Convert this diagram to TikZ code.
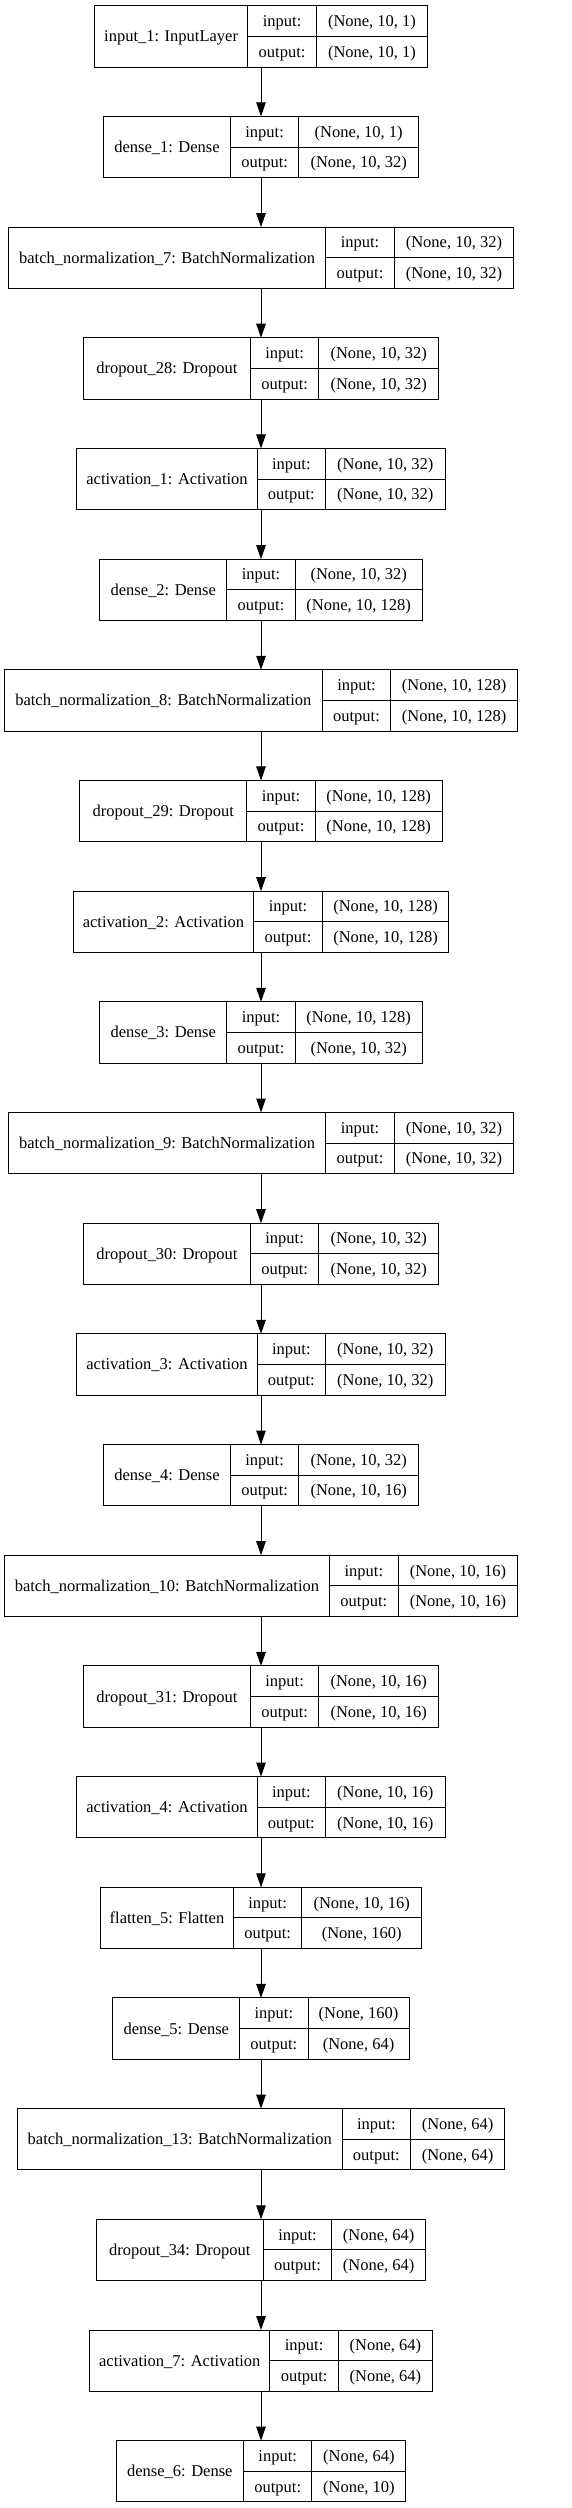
\documentclass[tikz,border=0pt]{standalone}
\usepackage{fontspec}
\setmainfont{Liberation Serif}
\usetikzlibrary{arrows.meta, positioning, calc}

\tikzset{
  layerbox/.style={draw, line width=1pt, minimum height=61.3pt, inner sep=0pt, outer sep=0pt},
  celltext/.style={inner sep=0pt, text height=10.9pt, text depth=0pt, font=\fontsize{16.5}{19}\selectfont},
}

\begin{document}
\begin{tikzpicture}[x=1pt, y=-1pt, >={Triangle[length=14pt, width=9.5pt]}, line width=1pt]
  \useasboundingbox (0,0) rectangle (571,2508);
  % one row per layer: label / input shape / output shape / name cell width / shape cell width
  \foreach \lab/\inp/\outp/\a/\v [count=\i from 0] in {
      {input\_1: InputLayer}/{(None, 10, 1)}/{(None, 10, 1)}/153.6/111.4,
      {dense\_1: Dense}/{(None, 10, 1)}/{(None, 10, 32)}/127/119.7,
      {batch\_normalization\_7: BatchNormalization}/{(None, 10, 32)}/{(None, 10, 32)}/317.4/119.4,
      {dropout\_28: Dropout}/{(None, 10, 32)}/{(None, 10, 32)}/167/119.7,
      {activation\_1: Activation}/{(None, 10, 32)}/{(None, 10, 32)}/180.3/119.6,
      {dense\_2: Dense}/{(None, 10, 32)}/{(None, 10, 128)}/127/127,
      {batch\_normalization\_8: BatchNormalization}/{(None, 10, 128)}/{(None, 10, 128)}/318/127,
      {dropout\_29: Dropout}/{(None, 10, 128)}/{(None, 10, 128)}/167/127,
      {activation\_2: Activation}/{(None, 10, 128)}/{(None, 10, 128)}/180.7/126.7,
      {dense\_3: Dense}/{(None, 10, 128)}/{(None, 10, 32)}/127/127,
      {batch\_normalization\_9: BatchNormalization}/{(None, 10, 32)}/{(None, 10, 32)}/317.4/119.4,
      {dropout\_30: Dropout}/{(None, 10, 32)}/{(None, 10, 32)}/167/119.7,
      {activation\_3: Activation}/{(None, 10, 32)}/{(None, 10, 32)}/180.3/119.6,
      {dense\_4: Dense}/{(None, 10, 32)}/{(None, 10, 16)}/127/119.7,
      {batch\_normalization\_10: BatchNormalization}/{(None, 10, 16)}/{(None, 10, 16)}/325.4/119.7,
      {dropout\_31: Dropout}/{(None, 10, 16)}/{(None, 10, 16)}/167/119.7,
      {activation\_4: Activation}/{(None, 10, 16)}/{(None, 10, 16)}/180.3/119.6,
      {flatten\_5: Flatten}/{(None, 10, 16)}/{(None, 160)}/133/119.7,
      {dense\_5: Dense}/{(None, 160)}/{(None, 64)}/126.7/101,
      {batch\_normalization\_13: BatchNormalization}/{(None, 64)}/{(None, 64)}/324.7/94,
      {dropout\_34: Dropout}/{(None, 64)}/{(None, 64)}/167/94,
      {activation\_7: Activation}/{(None, 64)}/{(None, 64)}/180.3/94,
      {dense\_6: Dense}/{(None, 64)}/{(None, 10)}/127.4/94}{
    \pgfmathsetmacro{\w}{\a+68.4+\v}
    \node[layerbox, minimum width=\w pt] (l\i) at (261, 36.35+110.68*\i) {};
    % cell borders
    \draw ($(l\i.north west)+(\a,0)$) -- ($(l\i.south west)+(\a,0)$);
    \draw ($(l\i.north west)+(\a+68.4,0)$) -- ($(l\i.south west)+(\a+68.4,0)$);
    \draw ($(l\i.west)+(\a,0)$) -- (l\i.east);
    % texts
    \node[celltext] (name\i) at ($(l\i.west)+(\a/2,0)$) {\lab};
    \node[celltext] (kin\i) at ($(l\i.north west)+(\a+34.2,15.33)$) {input:};
    \node[celltext] (kout\i) at ($(l\i.south west)+(\a+34.2,-15.33)$) {output:};
    \node[celltext] (vin\i) at ($(l\i.north west)+(\a+68.4+\v/2,15.33)$) {\inp};
    \node[celltext] (vout\i) at ($(l\i.south west)+(\a+68.4+\v/2,-15.33)$) {\outp};
  }
  \foreach \i [evaluate=\i as \j using int(\i+1)] in {0,...,21}
    \draw[->] (l\i) -- (l\j);
\end{tikzpicture}
\end{document}
